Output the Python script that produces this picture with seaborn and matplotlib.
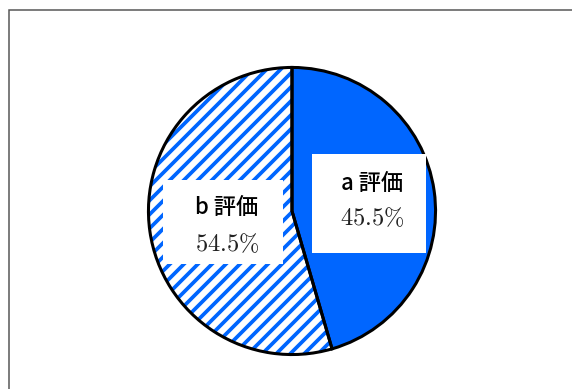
import matplotlib
matplotlib.use("Agg")
import matplotlib.pyplot as plt
import matplotlib.patches as mpatches
import seaborn as sns

# Data
categories = ["a評価", "b評価"]
values = [45.5, 54.5]
pct_labels = ["45.5%", "54.5%"]

sns.set_theme(style="white")
plt.rcParams["font.family"] = ["Noto Sans CJK JP", "DejaVu Sans"]
plt.rcParams["mathtext.fontset"] = "cm"
plt.rcParams["hatch.linewidth"] = 3.2

DPI = 84
W, H = 572, 389
fig = plt.figure(figsize=(W / DPI, H / DPI), dpi=DPI)
fig.patch.set_facecolor("white")

# outer frame (extends past right/bottom edges)
frame = mpatches.Rectangle((8.5 / W, -0.1), 1.2, 1 - 10.5 / H + 0.1,
                           transform=fig.transFigure, fill=False,
                           edgecolor="#555555", linewidth=1.3)
fig.patches.append(frame)

cx, cy, r = 292, 211, 145
ax = fig.add_axes([(cx - r) / W, (H - cy - r) / H, 2 * r / W, 2 * r / H])

BLUE = "#0066FF"
RAD = 0.99
fills, _ = ax.pie(values, startangle=90, counterclock=False, radius=RAD,
                  colors=[BLUE, "white"],
                  wedgeprops=dict(edgecolor=BLUE, linewidth=0))
fills[1].set_hatch("//")
fills[1].set_edgecolor(BLUE)
fills[1].set_linewidth(0)
ax.pie(values, startangle=90, counterclock=False, radius=RAD,
       wedgeprops=dict(fill=False, edgecolor="black", linewidth=2.6))

ax.set_xlim(-1, 1)
ax.set_ylim(-1, 1)
ax.set_aspect("equal")
ax.axis("off")

def px2d(x, y):
    return (x - cx) / r, (cy - y) / r

boxes = [((312, 253), (426, 154)), ((163, 264), (283, 180))]
for (x0, y0), (x1, y1) in boxes:
    (dx0, dy0), (dx1, dy1) = px2d(x0, y0), px2d(x1, y1)
    ax.add_patch(mpatches.Rectangle((dx0, dy0), dx1 - dx0, dy1 - dy0,
                                    facecolor="white", edgecolor="none", zorder=5))

name_pos = [(372, 183), (227, 208)]
pct_pos = [(372, 218), (227, 244)]
for i in range(len(categories)):
    name = categories[i][0] + " " + categories[i][1:]
    x, y = px2d(*name_pos[i])
    ax.text(x, y, name, ha="center", va="center", fontsize=19, fontweight="medium",
            color="black", zorder=6)
    x, y = px2d(*pct_pos[i])
    ax.text(x, y, "$" + pct_labels[i].replace("%", r"\%") + "$", ha="center", va="center",
            fontsize=21, color="#222222", zorder=6)

fig.savefig("out.png", dpi=DPI)
